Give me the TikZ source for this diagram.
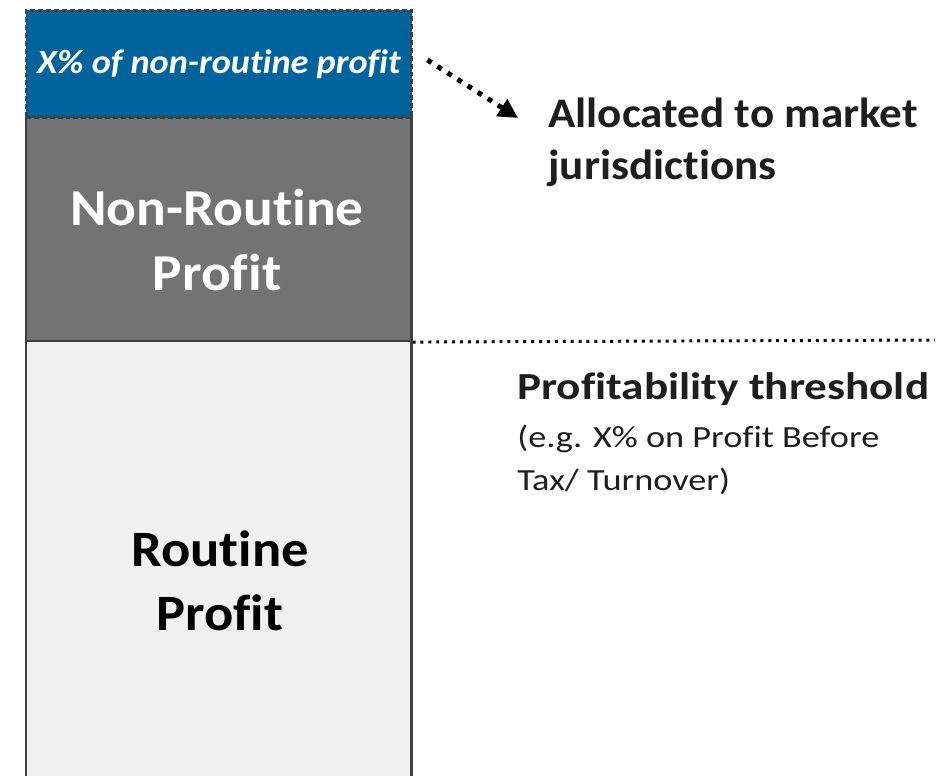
\documentclass[tikz,border=0pt]{standalone}
\usepackage{fontspec}
\setmainfont{Carlito}[Ligatures=NoCommon, FakeStretch=1.07]
\newfontfamily\widefont{Carlito}[Ligatures=NoCommon, FakeStretch=1.18]
\usepackage{xcolor}
\usepackage{tikz}
\usetikzlibrary{arrows.meta}

\definecolor{sharefill}{RGB}{0,99,155}
\definecolor{nonroutinefill}{RGB}{115,115,115}
\definecolor{routinefill}{RGB}{240,240,240}
\definecolor{edgegray}{RGB}{64,64,64}
\definecolor{ink}{RGB}{30,30,30}

\begin{document}
\begin{tikzpicture}[x=0.02cm, y=-0.02cm,
      bar/.style={draw=edgegray, line width=1.2pt, minimum width=7.72cm,
        inner sep=0pt, anchor=north west},
      bartext/.style={align=center, inner sep=0pt},
      note/.style={text=ink, align=left, anchor=base west, inner sep=0pt}
      ]
      \useasboundingbox (0,0) rectangle (945,776);

      % stacked bars
      \node[bar, fill=routinefill, minimum height=9cm] (routine) at (24.5,340) {};
      \node[bar, fill=nonroutinefill, minimum height=4.48cm] (nonroutine) at (24.5,116) {};
      \node[bar, fill=sharefill, minimum height=2.14cm,
        dash pattern=on 2.8pt off 1.7pt, line width=1.7pt] (share) at (24.5,9) {};

      % bar labels (base = last line)
      \node[bartext, text=white, font=\fontsize{19.3}{22}\selectfont\bfseries\itshape]
        (sharetext) at (share.center) {X\% of non-routine profit};
      \node[bartext, text=white, font=\fontsize{29.5}{37}\selectfont\bfseries, anchor=base]
        (nonroutinetext) at (217,291) {Non-Routine\\Profit};
      \node[bartext, text=black, font=\fontsize{29}{36}\selectfont\bfseries, anchor=base]
        (routinetext) at (220,630) {Routine\\Profit};

      % threshold line
      \coordinate (thresholdend) at (935,340);
      \draw[line width=1.7pt, dash pattern=on 1.7pt off 2.8pt] (nonroutine.south east) -- (thresholdend);

      % notes
      \node[note, font=\fontsize{24}{30}\selectfont\bfseries] (market) at (548,180)
        {Allocated to market\\jurisdictions};
      \node[note, font=\widefont\fontsize{21.8}{24}\selectfont\bfseries] (threshold) at (517,399)
        {Profitability threshold};
      \node[note, font=\widefont\fontsize{17.5}{24}\selectfont] (thresholdnote) at (517,490)
        {(e.g. X\% on Profit Before\\Tax/ Turnover)};

      % allocation arrow
      \coordinate (arrowtip) at (518,118);
      \draw[line width=2.8pt, dash pattern=on 2.8pt off 4pt,
        -{Triangle[length=11pt, width=11pt]}] ([shift={(14,-4)}]share.east) -- (arrowtip);
    \end{tikzpicture}
\end{document}
